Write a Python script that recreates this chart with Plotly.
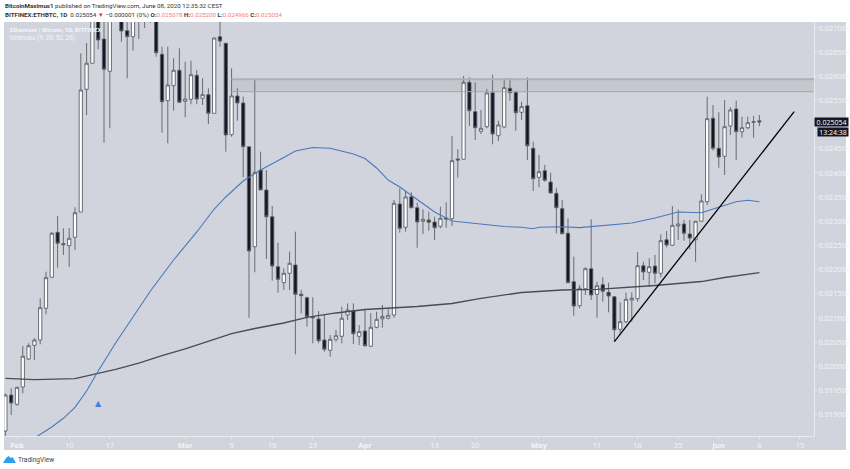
import pandas as pd
import plotly.graph_objects as go

# prices are in 1e-6 BTC. Candles above the top of the frame are guesses.
dates = pd.date_range('2020-01-30', '2020-06-08', freq='D')

opens = [18661, 19406, 19214, 19572, 20151, 20434, 20544, 21200, 21841, 22772, 22536, 22495, 22669,
         23192, 25731, 26269, 27150, 26772, 26103, 27200, 27300, 26943, 26819, 27150, 27200, 27250,
         27250, 26455, 25495, 25805, 26124, 25483, 25524, 26021, 25545, 25619, 25234, 26819, 26683,
         24792, 25592, 25448, 24543, 22474, 24061, 23648, 23095, 22061, 21730, 21924, 22096, 21490,
         21419, 21020, 20979, 20544, 20331, 20558, 20621, 21061, 21150, 20621, 20730, 20414, 20807,
         20985, 20993, 21061, 23358, 22876, 23509, 23281, 23000, 23027, 22985, 22896, 23068, 23054,
         24289, 24283, 25876, 25268, 24862, 24957, 25661, 24771, 24951, 25752, 25669, 25255, 25392,
         24510, 23910, 24047, 23813, 23579, 23261, 22752, 21750, 21254, 21605, 22019, 21490, 21688,
         21531, 21440, 20765, 20923, 21372, 21399, 22081, 21945, 22075, 21924, 22619, 22503, 22903,
         22944, 22737, 22619, 23000, 23405, 25131, 24510, 24345, 24972, 25323, 24854, 24936, 25048,
         25078]
highs = [19437, 19545, 19578, 20420, 20476, 20579, 21407, 21957, 22779, 23110, 22855, 22861, 23290,
         26476, 26689, 27350, 27400, 27300, 27400, 27600, 27500, 27200, 27400, 27400, 27500, 27450,
         27400, 26612, 26612, 26372, 26579, 26302, 26323, 26130, 25959, 25752, 26792, 27200, 26683,
         26165, 25752, 25578, 24543, 25923, 24440, 24061, 23316, 22557, 22028, 22371, 22785, 21579,
         21440, 21427, 21144, 21061, 20648, 20751, 21233, 21303, 21303, 20854, 21165, 21096, 21130,
         21268, 21179, 23441, 23683, 23627, 23600, 23385, 23248, 23199, 23095, 23302, 23393, 24765,
         24490, 26006, 25979, 25876, 25303, 25737, 26033, 25081, 25959, 25959, 25702, 25474, 25979,
         24647, 24372, 24165, 24005, 23683, 23441, 23062, 22268, 21682, 22048, 23041, 21750, 21841,
         21730, 21440, 21324, 21522, 21531, 22365, 22164, 22234, 22303, 22731, 22799, 23316, 23240,
         23027, 23027, 23000, 23558, 25578, 25406, 25255, 25510, 25358, 25495, 25164, 25164, 25179,
         25200]
lows = [18558, 18992, 19185, 19441, 20130, 20130, 20455, 21076, 21841, 22040, 22303, 22060, 22406,
        23192, 25199, 26269, 26559, 24626, 24924, 27150, 26716, 25959, 26530, 26772, 27000, 27103,
        26405, 24833, 24614, 25288, 25462, 25152, 25421, 25421, 25406, 25013, 25234, 26612, 24440,
        24750, 25081, 23910, 21005, 21945, 23648, 22220, 21771, 21523, 21579, 21579, 20248, 21096,
        20819, 20476, 20476, 20302, 20198, 20509, 20476, 20958, 20461, 20441, 20405, 20405, 20786,
        20798, 20972, 21005, 22764, 22785, 23269, 22454, 22737, 22805, 22613, 22855, 22868, 22903,
        23902, 24283, 24972, 24682, 24806, 24924, 24593, 24661, 24924, 25495, 24874, 25096, 24268,
        23627, 23703, 23819, 23579, 22752, 22737, 21730, 21047, 21200, 21475, 21372, 21005, 21336,
        21117, 20509, 20682, 20890, 20923, 21336, 21785, 21647, 21717, 21841, 22462, 22489, 22613,
        22599, 22421, 22164, 23000, 23337, 24461, 24109, 23958, 24785, 24268, 24730, 24903, 24730,
        24966]
closes = [19406, 19240, 19565, 20207, 20426, 20544, 21212, 21833, 22752, 22545, 22516, 22648, 23178,
          25716, 26269, 27206, 26751, 26145, 27200, 27400, 26937, 26819, 27200, 27250, 27300, 27160,
          26488, 25474, 25820, 26124, 25462, 25530, 26033, 25530, 25619, 25234, 26792, 26730, 24786,
          25592, 25448, 24543, 22385, 24014, 23648, 23095, 22075, 21800, 21924, 22131, 21490, 21461,
          21026, 21005, 20530, 20352, 20558, 20633, 20993, 21165, 20674, 20716, 20426, 20807, 20972,
          21034, 21055, 23372, 22855, 23503, 23281, 22985, 23041, 22979, 22868, 23062, 23048, 24254,
          24268, 25876, 25288, 24936, 24924, 25654, 24806, 24992, 25764, 25661, 25247, 25371, 24564,
          23881, 24026, 23848, 23585, 23281, 22743, 21730, 21247, 21614, 22019, 21475, 21667, 21552,
          21454, 20757, 20923, 21386, 21407, 22081, 21951, 22061, 21924, 22599, 22510, 22917, 22944,
          22752, 22654, 23000, 23420, 25123, 24510, 24330, 24957, 25303, 24854, 24936, 25040, 25061,
          25054]

blue_dates = ['2020-02-04', '2020-02-07', '2020-02-09', '2020-02-11', '2020-02-13', '2020-02-15',
              '2020-02-18', '2020-02-21', '2020-02-24', '2020-02-28', '2020-03-03', '2020-03-06',
              '2020-03-08', '2020-03-11', '2020-03-14', '2020-03-18', '2020-03-20', '2020-03-23',
              '2020-03-26', '2020-03-30', '2020-04-01', '2020-04-03', '2020-04-05', '2020-04-07',
              '2020-04-10', '2020-04-13', '2020-04-16', '2020-04-19', '2020-04-22', '2020-04-25',
              '2020-04-28', '2020-04-30', '2020-05-01', '2020-05-05', '2020-05-08', '2020-05-12',
              '2020-05-17', '2020-05-21', '2020-05-25', '2020-05-29', '2020-06-01', '2020-06-04',
              '2020-06-06', '2020-06-08']
blue_vals = [18516, 18744, 18924, 19152, 19488, 19903, 20482, 21014, 21558, 22199, 22779, 23254,
             23503, 23834, 24061, 24320, 24454, 24527, 24512, 24392, 24299, 24103, 23854, 23710,
             23451, 23192, 23006, 22971, 22938, 22892, 22876, 22847, 22876, 22888, 22868, 22913,
             22965, 23068, 23192, 23178, 23296, 23405, 23434, 23405]

black_dates = ['2020-01-30', '2020-02-04', '2020-02-11', '2020-02-15', '2020-02-18', '2020-02-22',
               '2020-02-26', '2020-03-01', '2020-03-06', '2020-03-09', '2020-03-13', '2020-03-18',
               '2020-03-22', '2020-03-27', '2020-04-01', '2020-04-10', '2020-04-16', '2020-04-21',
               '2020-04-28', '2020-05-05', '2020-05-11', '2020-05-21', '2020-05-29', '2020-06-02',
               '2020-06-08']
black_vals = [19752, 19723, 19743, 19851, 19934, 20068, 20223, 20358, 20550, 20678, 20782, 20896,
              21010, 21103, 21175, 21237, 21299, 21403, 21527, 21579, 21593, 21672, 21754, 21837,
              21936]

trend_dates = ['2020-05-14', '2020-06-14']
trend_vals = [20509, 25268]

zone_start = '2020-03-09'
zone_top = 25938
zone_bottom = 25681

signal_date = '2020-02-15'
signal_price = 19240

tick_dates = ['2020-02-01', '2020-02-10', '2020-02-17', '2020-03-01', '2020-03-09', '2020-03-16',
              '2020-03-23', '2020-04-01', '2020-04-13', '2020-04-20', '2020-05-01', '2020-05-11',
              '2020-05-18', '2020-05-25', '2020-06-01', '2020-06-08', '2020-06-15']
tick_labels = ['<b>Feb</b>', '10', '17', '<b>Mar</b>', '9', '16', '23', '<b>Apr</b>', '13', '20',
               '<b>May</b>', '11', '18', '25', '<b>Jun</b>', '8', '15']
# 0.025000 sits behind the last price tag, so it is left out
price_ticks = [0.019, 0.0195, 0.02, 0.0205, 0.021, 0.0215, 0.022, 0.0225, 0.023, 0.0235, 0.024,
               0.0245, 0.0255, 0.026, 0.0265, 0.027]

BG = '#d1d4dc'
DARK = '#131722'
TEXT = '#f4f5f8'
FONT = 'Open Sans'
SMALL = 'Roboto'
X_END = '2020-06-17 10:00'


def scaled(vals):
    return [v / 1e6 for v in vals]


def label(text, x, y, color, size=6.2):
    # free text placed in paper fractions
    fig.add_annotation(xref='paper', yref='paper', x=x, y=y, xanchor='left', yanchor='middle', text=text,
                       showarrow=False, font=dict(size=size, color=color, family=SMALL))


fig = go.Figure()

# moving averages under the candles
fig.add_trace(go.Scatter(x=black_dates, y=scaled(black_vals), mode='lines',
                         line=dict(color='#4a4c52', width=1.3), hoverinfo='skip'))
fig.add_trace(go.Scatter(x=blue_dates, y=scaled(blue_vals), mode='lines',
                         line=dict(color='#4a78bd', width=1.1), hoverinfo='skip'))

fig.add_trace(go.Candlestick(
    x=dates, open=scaled(opens), high=scaled(highs), low=scaled(lows), close=scaled(closes),
    whiskerwidth=0,
    increasing=dict(fillcolor='white', line=dict(color='#5d5f66', width=0.9)),
    decreasing=dict(fillcolor=DARK, line=dict(color='#5d5f66', width=0.9)),
))

fig.add_trace(go.Scatter(x=trend_dates, y=scaled(trend_vals), mode='lines',
                         line=dict(color='black', width=1.3), hoverinfo='skip'))

# resistance box runs out to the price scale
fig.add_shape(type='rect', xref='x', yref='y', x0=zone_start, x1=X_END,
              y0=zone_bottom / 1e6, y1=zone_top / 1e6, layer='below',
              fillcolor='rgba(120,123,134,0.13)', line_width=0)
fig.add_shape(type='line', xref='x', yref='y', x0=zone_start, x1=X_END,
              y0=zone_top / 1e6, y1=zone_top / 1e6, line=dict(color='#aeb0b8', width=2))
fig.add_shape(type='line', xref='x', yref='y', x0=zone_start, x1=X_END,
              y0=zone_bottom / 1e6, y1=zone_bottom / 1e6, line=dict(color='#a4a6ae', width=1))

# grey panel behind the price and time scales
fig.add_shape(type='rect', xref='paper', yref='paper', x0=0, x1=1.0395, y0=-0.0338, y1=1,
              layer='below', fillcolor=BG, line_width=0)

fig.add_annotation(x=signal_date, y=signal_price / 1e6, text='▲', showarrow=False,
                   font=dict(size=8, color='#3d7fe8', family='DejaVu Sans'))

# price and countdown tags
last_price = closes[-1] / 1e6
fig.add_annotation(xref='paper', x=1, xanchor='left', y=last_price, yanchor='middle', text='0.025054',
                   showarrow=False, bgcolor=DARK, borderpad=0, width=33, height=8,
                   font=dict(size=7, color='white', family=FONT))
fig.add_annotation(xref='paper', x=1, xanchor='left', xshift=3, y=last_price, yanchor='middle', yshift=-10,
                   text='13:24:38', showarrow=False, bgcolor=DARK, borderpad=0, width=30, height=8,
                   font=dict(size=7, color='white', family=FONT))

# texts on the chart
label('<b>Ethereum / Bitcoin, 1D, BITFINEX</b>', 0.005, 0.9807, TEXT)
label('Ichimoku (9, 26, 52, 26)', 0.005, 0.9602, TEXT, size=6.3)

# header and footer
label('<b>BitcoinMaximus1</b> published on TradingView.com, June 08, 2020 12:35:32 CEST', -0.0012, 1.0386, '#333')
red = '#f77c80'
label(('<b>BITFINEX:ETHBTC, 1D</b>  0.025054 <span style="color:#e53935">▼</span> −0.000001 (0%) '
       f'<b>O:</b><span style="color:{red}">0.025078</span> '
       f'<b>H:</b><span style="color:{red}">0.025200</span> '
       f'<b>L:</b><span style="color:{red}">0.024966</span> '
       f'<b>C:</b><span style="color:{red}">0.025054</span>'), -0.0012, 1.0169, '#333')
label('TradingView', 0.0145, -0.058, '#444', size=6.6)
fig.add_shape(type='path', xref='paper', yref='paper', fillcolor='#2e9ef0', line_width=0,
              path='M -0.0012 -0.0652 L 0.0025 -0.0531 L 0.0055 -0.0483 L 0.0085 -0.0531 L 0.0105 -0.0507 '
                   'L 0.0148 -0.0652 Z')

fig.update_layout(
    width=850, height=469, margin=dict(l=4, r=36, t=22, b=33, autoexpand=False),
    paper_bgcolor='white', plot_bgcolor=BG, showlegend=False, boxgap=0.2,
    font=dict(family=FONT, size=7.5, color=TEXT),
    xaxis=dict(
        range=['2020-01-29 18:13', X_END], rangeslider=dict(visible=False),
        tickmode='array', tickvals=tick_dates, ticktext=tick_labels,
        showgrid=False, zeroline=False, showline=True, linecolor='#e9eaee', linewidth=1,
        ticks='outside', ticklen=2, tickcolor='#e9eaee', tickangle=0,
        tickfont=dict(size=7.5, color=TEXT, family=FONT),
    ),
    yaxis=dict(
        range=[0.018558, 0.027123], side='right',
        tickmode='array', tickvals=price_ticks, tickformat='.6f',
        showgrid=False, zeroline=False, showline=True, linecolor='#e9eaee', linewidth=1,
        ticks='outside', ticklen=2, tickcolor='#e9eaee',
        tickfont=dict(size=7.5, color=TEXT, family=FONT),
    ),
)

fig.write_html("out.html", config={'displayModeBar': False}, post_script="document.body.style.margin='0';")
